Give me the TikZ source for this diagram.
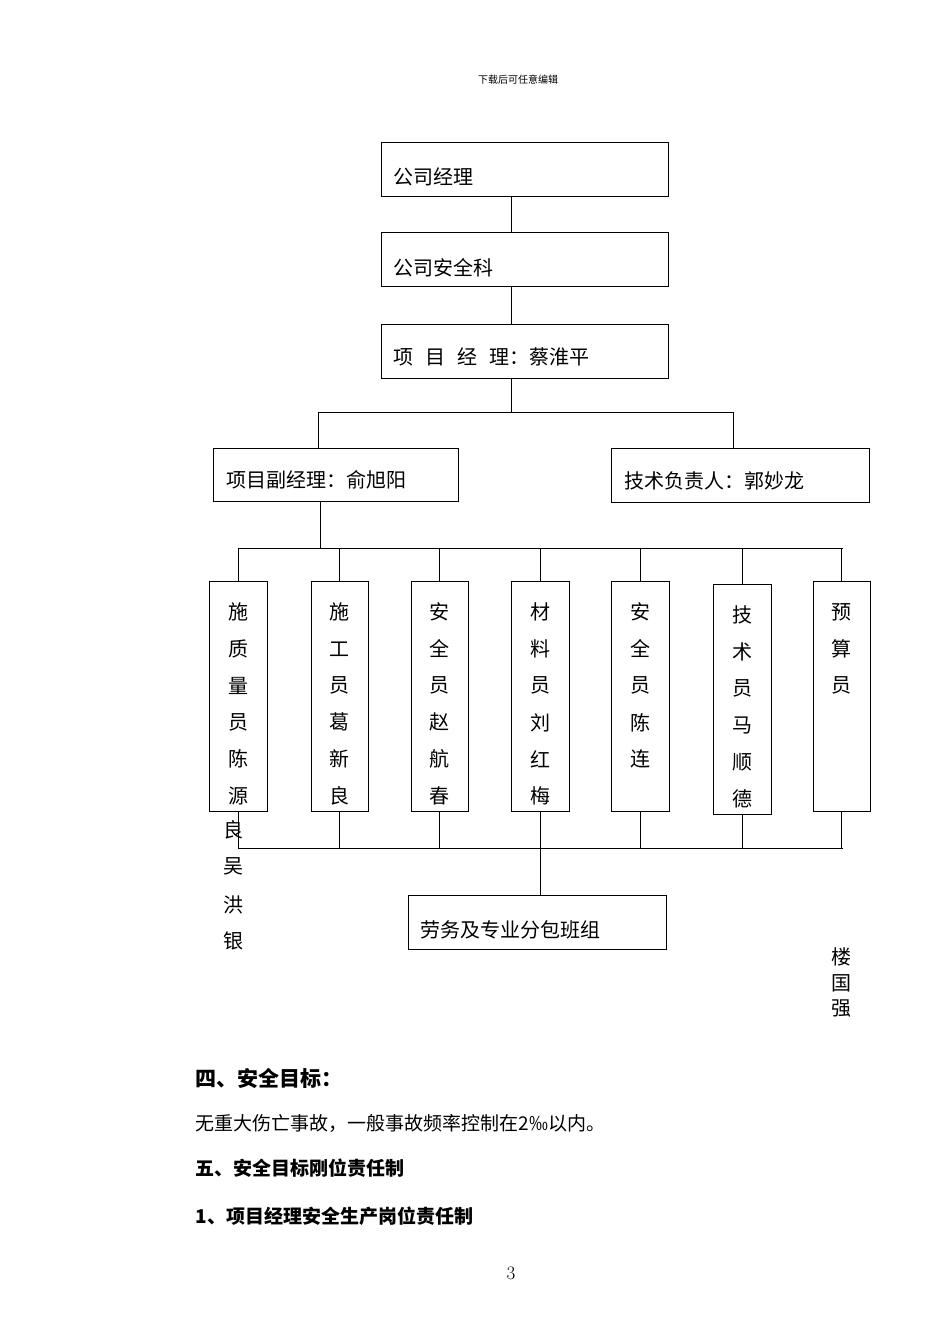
\documentclass[tikz,border=0pt]{standalone}
\usepackage{fontspec}
\newfontfamily\cjk{Noto Sans CJK SC}
\begin{document}
\begin{tikzpicture}[x=1pt,y=-1pt,
  box/.style={draw,line width=0.9pt,inner sep=0pt},
  ln/.style={line width=0.9pt},
  txt/.style={font=\cjk\fontsize{20}{22}\selectfont,anchor=west,inner sep=0pt},
  vch/.style={font=\cjk\fontsize{20}{22}\selectfont,inner sep=0pt}]
\useasboundingbox[fill=white] (0,0) rectangle (950,1344);
\node[font=\cjk\fontsize{10}{12}\selectfont] (hdr) at (518,80) {下载后可任意编辑};
% top boxes
\draw[box] (381,142) rectangle (668,196); \node[txt] (a) at (393,177) {公司经理};
\draw[box] (381,232) rectangle (668,286); \node[txt] (b) at (393,268) {公司安全科};
\draw[box] (381,324) rectangle (668,378); \node[txt] (c) at (393,357) {项\hspace{0.6em}目\hspace{0.6em}经\hspace{0.6em}理：蔡淮平};
\draw[ln] (511,196)--(511,232) (511,286)--(511,324) (511,378)--(511,412);
\draw[ln] (318,448)--(318,412)--(733,412)--(733,448);
\draw[box] (213,448) rectangle (458,501); \node[txt] (d) at (226,480) {项目副经理：俞旭阳};
\draw[box] (611,448) rectangle (869,502); \node[txt] (e) at (624,481) {技术负责人：郭妙龙};
\draw[ln] (320,501)--(320,548);
\draw[ln] (238,548)--(843,548);
\foreach \xl/\xr/\yt/\yb/\s in {209/267/581/811/{施,质,量,员,陈,源},311/368/581/811/{施,工,员,葛,新,良},411/468/581/811/{安,全,员,赵,航,春},511/569/581/811/{材,料,员,刘,红,梅},611/669/581/811/{安,全,员,陈,连},713/771/584/814/{技,术,员,马,顺,德},813/870/581/811/{预,算,员}}{
  \draw[box] (\xl,\yt) rectangle (\xr,\yb);
  \pgfmathsetmacro\xc{(\xl+\xr)/2}
  \draw[ln] (\xc,548)--(\xc,\yt) (\xc,\yb)--(\xc,848);
  \foreach \ch [count=\i] in \s {\node[vch] at (\xc,{\yt+31+(\i-1)*36.8}) {\ch};}
}
\foreach \ch/\yy in {良/830,吴/866,洪/905,银/941}{\node[vch] at (233,\yy) {\ch};}
\draw[ln] (238,811)--(238,848);
\draw[ln] (238,848)--(843,848);
\draw[ln] (540,848)--(540,895);
\draw[box] (408,895) rectangle (666,949); \node[txt] (f) at (420,930) {劳务及专业分包班组};
\foreach \ch/\yy in {楼/957,国/983,强/1008}{\node[vch] at (841,\yy) {\ch};}
\node[font=\cjk\bfseries\fontsize{21}{24}\selectfont,anchor=west] (h1) at (192,1078) {四、安全目标：};
\node[font=\cjk\fontsize{19}{22}\selectfont,anchor=west] (p1) at (192,1123) {无重大伤亡事故，一般事故频率控制在2‰以内。};
\node[font=\cjk\bfseries\fontsize{19}{22}\selectfont,anchor=west] (h2) at (192,1168) {五、安全目标刚位责任制};
\node[font=\cjk\bfseries\fontsize{19}{22}\selectfont,anchor=west] (h3) at (192,1216) {1、项目经理安全生产岗位责任制};
\node[font=\fontsize{19}{22}\selectfont] (pg) at (511,1273) {3};
\end{tikzpicture}
\end{document}
